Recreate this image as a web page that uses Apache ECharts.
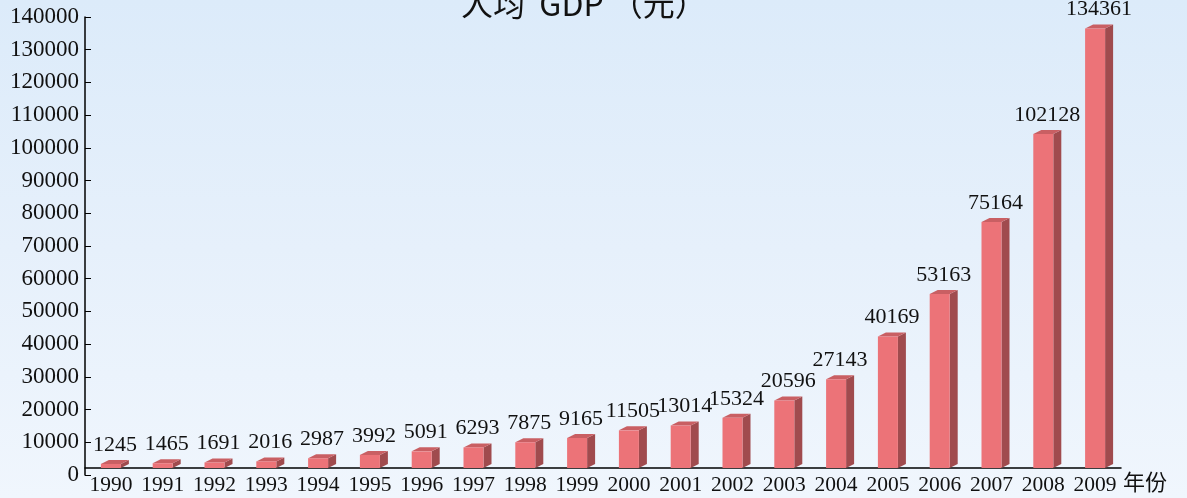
<!DOCTYPE html>
<html>
<head>
<meta charset="utf-8">
<script src="https://cdn.jsdelivr.net/npm/echarts@6/dist/echarts.min.js"></script>
<style>
html,body{margin:0;padding:0;}
#main{width:1187px;height:498px;background:linear-gradient(to bottom,#dcebfa 0%,#e6f0fb 50%,#f0f6fd 100%);}
</style>
</head>
<body>
<div id="main"></div>
<script>
const categories = ['1990','1991','1992','1993','1994','1995','1996','1997','1998','1999','2000','2001','2002','2003','2004','2005','2006','2007','2008','2009'];
const values = [1245,1465,1691,2016,2987,3992,5091,6293,7875,9165,11505,13014,15324,20596,27143,40169,53163,75164,102128,134361];
const titleText = '人均  GDP （元）';
const xAxisName = '年份';
const yMax = 140000;
const yInterval = 10000;

const chart = echarts.init(document.getElementById('main'), null, {renderer:'canvas'});
const SHIFT = 7, HALF = 10, DX = 8, DY = 4;
const serif = '"Liberation Serif","DejaVu Serif",serif';

chart.setOption({
  backgroundColor: 'transparent',
  title: {
    text: titleText, left: 456, top: -17,
    textStyle: {fontFamily: '"Noto Sans CJK SC",sans-serif', fontSize: 32, fontWeight: 'normal', color: '#111'}
  },
  grid: {left: 85, right: 66, top: 17, bottom: 23},
  xAxis: {
    type: 'category', data: categories, offset: -7,
    name: xAxisName, nameLocation: 'end', nameGap: 2,
    nameTextStyle: {fontFamily: '"Noto Sans CJK SC",sans-serif', fontSize: 22, color: '#111', verticalAlign: 'top', padding: [3,0,0,0]},
    axisLine: {lineStyle: {color: '#000', width: 1.5}},
    axisTick: {inside: true, length: 7, lineStyle: {color: '#000'}},
    axisLabel: {interval: 0, fontFamily: serif, fontSize: 21.5, color: '#111', margin: 6}
  },
  yAxis: {
    type: 'value', min: 0, max: yMax, interval: yInterval,
    axisLine: {show: true, lineStyle: {color: '#000', width: 1.5}},
    axisTick: {show: true, inside: true, length: 6, lineStyle: {color: '#000'}},
    splitLine: {show: false},
    axisLabel: {formatter: v => String(v), fontFamily: serif, fontSize: 23, color: '#111', margin: 6}
  },
  series: [{
    type: 'custom',
    data: values.map((v, i) => [i, v]),
    encode: {x: 0, y: 1},
    renderItem: function (params, api) {
      const c = api.coord([api.value(0), api.value(1)]);
      const b = api.coord([api.value(0), 0]);
      const x0 = c[0] - HALF, x1 = c[0] + HALF;
      const yt = c[1] - SHIFT, yb = b[1] - SHIFT;
      return {
        type: 'group',
        children: [
          {type: 'polygon', shape: {points: [[x1, yb], [x1 + DX, yb - DY], [x1 + DX, yt - DY], [x1, yt]]}, style: {fill: '#a04b4e'}},
          {type: 'polygon', shape: {points: [[x0, yt], [x0 + DX, yt - DY], [x1 + DX, yt - DY], [x1, yt]]}, style: {fill: '#c95f63'}},
          {type: 'rect', shape: {x: x0, y: yt, width: 2 * HALF, height: yb - yt}, style: {fill: '#ec7378'}},
          {type: 'text', x: c[0] + 4, y: yt - DY - 4, style: {text: String(api.value(1)), font: '22px ' + serif, fill: '#111', textAlign: 'center', textVerticalAlign: 'bottom'}}
        ]
      };
    }
  }]
});
</script>
</body>
</html>
